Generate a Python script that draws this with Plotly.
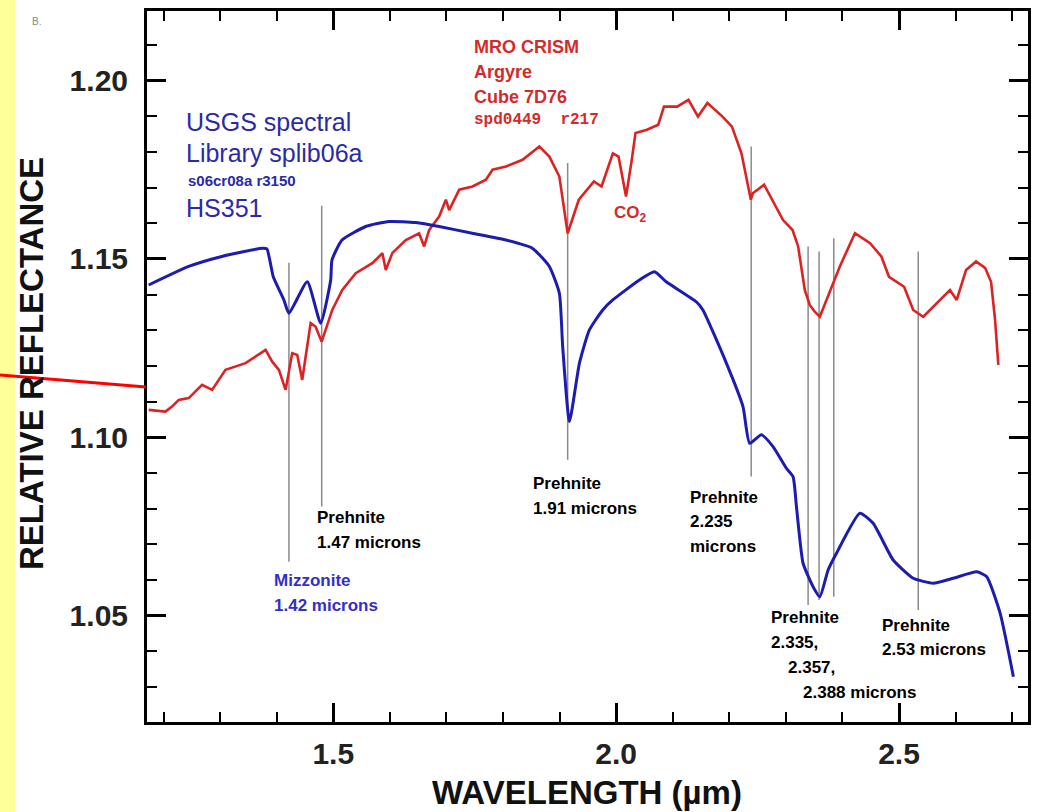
import plotly.graph_objects as go

# ---------------- data ----------------
blue_wl = [1.1737, 1.2445, 1.3029, 1.3743, 1.3826, 1.3939, 1.4127, 1.4216, 1.4540, 1.4777,
           1.4954, 1.4977, 1.5154, 1.5574, 1.5986, 1.6459, 1.6871, 1.7456, 1.8052, 1.8518,
           1.8819, 1.8996, 1.9055, 1.9174, 1.9351, 1.9527, 1.9763, 1.9940, 2.0412, 2.0678,
           2.0885, 2.1416, 2.1533, 2.1948, 2.2242, 2.2360, 2.2567, 2.2773, 2.3010, 2.3127,
           2.3187, 2.3304, 2.3481, 2.3600, 2.3747, 2.3895, 2.4308, 2.4543, 2.4897, 2.5251,
           2.5606, 2.5960, 2.6374, 2.6551, 2.6787, 2.7022]
blue_refl = [1.1427, 1.1479, 1.1507, 1.1530, 1.1528, 1.1450, 1.1385, 1.1348, 1.1436, 1.1320,
             1.1441, 1.1497, 1.1553, 1.1591, 1.1605, 1.1602, 1.1591, 1.1572, 1.1553, 1.1530,
             1.1479, 1.1404, 1.1254, 1.1044, 1.1208, 1.1301, 1.1357, 1.1385, 1.1441, 1.1464,
             1.1436, 1.1380, 1.1357, 1.1208, 1.1086, 1.0983, 1.1007, 1.0974, 1.0913, 1.0890,
             1.0806, 1.0647, 1.0581, 1.0553, 1.0628, 1.0675, 1.0787, 1.0759, 1.0656, 1.0605,
             1.0591, 1.0605, 1.0623, 1.0609, 1.0507, 1.0329]

red_wl = [1.1737, 1.2033, 1.2149, 1.2268, 1.2445, 1.2681, 1.2858, 1.3095, 1.3449, 1.3626,
          1.3803, 1.3920, 1.4039, 1.4157, 1.4274, 1.4363, 1.4451, 1.4511, 1.4600, 1.4688,
          1.4795, 1.4982, 1.5159, 1.5397, 1.5690, 1.5868, 1.5928, 1.6045, 1.6282, 1.6517,
          1.6606, 1.6694, 1.6871, 1.6990, 1.7049, 1.7226, 1.7461, 1.7698, 1.7815, 1.8052,
          1.8346, 1.8642, 1.8819, 1.8996, 1.9143, 1.9340, 1.9607, 1.9742, 1.9942, 2.0042,
          2.0175, 2.0276, 2.0342, 2.0544, 2.0744, 2.0845, 2.1078, 2.1278, 2.1447, 2.1613,
          2.1880, 2.2047, 2.2215, 2.2381, 2.2415, 2.2615, 2.2817, 2.2950, 2.3118, 2.3217,
          2.3334, 2.3422, 2.3511, 2.3600, 2.3718, 2.3835, 2.3954, 2.4221, 2.4488, 2.4688,
          2.4823, 2.5090, 2.5251, 2.5428, 2.5666, 2.5901, 2.6020, 2.6185, 2.6362, 2.6521,
          2.6627, 2.6698, 2.6756]
red_refl = [1.1077, 1.1072, 1.1086, 1.1105, 1.1110, 1.1147, 1.1133, 1.1189, 1.1208, 1.1226,
            1.1245, 1.1212, 1.1189, 1.1133, 1.1236, 1.1231, 1.1161, 1.1226, 1.1320, 1.1310,
            1.1268, 1.1357, 1.1413, 1.1460, 1.1488, 1.1516, 1.1469, 1.1517, 1.1553, 1.1572,
            1.1535, 1.1581, 1.1619, 1.1666, 1.1637, 1.1694, 1.1703, 1.1722, 1.1750, 1.1759,
            1.1778, 1.1815, 1.1787, 1.1731, 1.1572, 1.1666, 1.1717, 1.1703, 1.1796, 1.1787,
            1.1675, 1.1778, 1.1853, 1.1862, 1.1876, 1.1927, 1.1927, 1.1946, 1.1899, 1.1937,
            1.1899, 1.1871, 1.1796, 1.1666, 1.1684, 1.1708, 1.1647, 1.1609, 1.1581, 1.1535,
            1.1413, 1.1371, 1.1352, 1.1338, 1.1385, 1.1432, 1.1479, 1.1572, 1.1544, 1.1507,
            1.1450, 1.1422, 1.1357, 1.1338, 1.1376, 1.1413, 1.1385, 1.1469, 1.1493, 1.1475,
            1.1436, 1.1329, 1.1203]

# absorption feature marker lines
feat_wl = [1.4216, 1.4795, 1.9143, 2.2387, 2.3393, 2.3587, 2.3847, 2.5340]
feat_top = [1.1489, 1.1649, 1.1769, 1.1815, 1.1535, 1.1521, 1.1558, 1.1521]
feat_bot = [1.0651, 1.0806, 1.0937, 1.0890, 1.0530, 1.0544, 1.0553, 1.0516]

x_ticks = [1.5, 2.0, 2.5]
y_ticks = [1.05, 1.10, 1.15, 1.20]

X_RANGE = [1.1707, 2.728]
Y_RANGE = [1.0202, 1.2195]

# ---------------- layout helpers ----------------
W, H = 1042, 812
L, R, T, B = 147, 1028, 11, 722


def dx(xp):
    return X_RANGE[0] + (xp - L) / (R - L) * (X_RANGE[1] - X_RANGE[0])


def dy(yp):
    return Y_RANGE[1] - (yp - T) / (B - T) * (Y_RANGE[1] - Y_RANGE[0])


def px_paper(xp, yp):
    return (xp - L) / (R - L), (B - yp) / (B - T)


FONT = "Liberation Sans, Arial, Helvetica, sans-serif"
BLUE = "#1c1cb0"
RED = "#dc2222"
BLUE_TXT = "#2a2aa8"
RED_TXT = "#d42a2a"

fig = go.Figure()

# feature lines
fx, fy = [], []
for w, t, b in zip(feat_wl, feat_top, feat_bot):
    fx += [w, w, None]
    fy += [b, t, None]
fig.add_trace(go.Scatter(x=fx, y=fy, mode="lines", line=dict(color="#8a8a8a", width=1.5),
                         hoverinfo="skip", showlegend=False))

fig.add_trace(go.Scatter(x=red_wl, y=red_refl, mode="lines", name="MRO CRISM",
                         line=dict(color=RED, width=2.6), showlegend=False))
fig.add_trace(go.Scatter(x=blue_wl, y=blue_refl, mode="lines", name="USGS HS351",
                         line=dict(color=BLUE, width=3, shape="spline", smoothing=0.5),
                         showlegend=False))

annos = []


def txt(xp, yp, text, color="black", size=17, bold=True, family=FONT, anchor="left"):
    annos.append(dict(x=dx(xp), y=dy(yp), xref="x", yref="y", text=text, showarrow=False,
                      xanchor=anchor, yanchor="middle",
                      font=dict(family=family, size=size, color=color,
                                weight="bold" if bold else "normal")))


# blue library label
txt(184, 122, "USGS spectral", BLUE_TXT, 25, False)
txt(184, 153, "Library splib06a", BLUE_TXT, 25, False)
txt(186, 180, "s06cr08a r3150", BLUE_TXT, 15, True)
txt(184, 208, "HS351", BLUE_TXT, 25, False)

# red CRISM label
txt(472, 47, "MRO CRISM", RED_TXT, 18)
txt(472, 72, "Argyre", RED_TXT, 18)
txt(472, 97, "Cube 7D76", RED_TXT, 18)
txt(472, 120, "spd0449  r217", RED_TXT, 16, True, "Liberation Mono, Courier New, monospace")
txt(612, 214, "CO<sub>2</sub>", RED_TXT, 17)

# feature labels
txt(315, 517, "Prehnite")
txt(315, 542, "1.47 microns")
txt(272, 580, "Mizzonite", "#3030c8")
txt(272, 605, "1.42 microns", "#3030c8")
txt(531, 483, "Prehnite")
txt(531, 508, "1.91 microns")
txt(688, 497, "Prehnite")
txt(688, 521, "2.235")
txt(688, 546, "microns")
txt(769, 617, "Prehnite")
txt(769, 642, "2.335,")
txt(786, 667, "2.357,")
txt(801, 692, "2.388 microns")
txt(880, 625, "Prehnite")
txt(880, 649, "2.53 microns")

# panel tag
bx, by = px_paper(36, 21)
annos.append(dict(x=bx, y=by, xref="paper", yref="paper", text="B.",
                  showarrow=False, xanchor="center", yanchor="middle",
                  font=dict(family=FONT, size=10, color="#888888")))

# axis titles
tx, ty = px_paper(587, 792)
annos.append(dict(x=tx, y=ty, xref="paper", yref="paper",
                  text="WAVELENGTH (µm)", showarrow=False, xanchor="center", yanchor="middle",
                  font=dict(family=FONT, size=33, color="#111111", weight="bold")))
yx, yy = px_paper(31, 364)
annos.append(dict(x=yx, y=yy, xref="paper", yref="paper",
                  text="RELATIVE REFLECTANCE", showarrow=False, textangle=-90,
                  xanchor="center", yanchor="middle",
                  font=dict(family=FONT, size=33, color="#111111", weight="bold")))

# yellow strip and red pointer line on the left
s_x0, s_y0 = px_paper(0, H)
s_x1, s_y1 = px_paper(15, 0)
p_x0, p_y0 = px_paper(0, 375)
p_x1, p_y1 = px_paper(146, 387)
shapes = [
    dict(type="rect", xref="paper", yref="paper", x0=s_x0, x1=s_x1, y0=s_y0, y1=s_y1,
         fillcolor="#ffff99", line=dict(width=0), layer="below"),
    dict(type="line", xref="paper", yref="paper", x0=p_x0, x1=p_x1, y0=p_y0, y1=p_y1,
         line=dict(color="#ff0000", width=3)),
]

axis_common = dict(showline=True, linecolor="black", linewidth=3, mirror="ticks",
                   ticks="inside", tickcolor="black", tickwidth=2.5, ticklen=19,
                   showgrid=False, zeroline=False,
                   tickfont=dict(family=FONT, size=30, color="#222222", weight="bold"))

fig.update_layout(
    width=W, height=H,
    margin=dict(l=L, r=W - R, t=T, b=H - B, autoexpand=False),
    paper_bgcolor="white", plot_bgcolor="white",
    showlegend=False,
    annotations=annos, shapes=shapes,
    xaxis=dict(range=X_RANGE, tickvals=x_ticks, ticktext=[f"{v:.1f}" for v in x_ticks],
               ticklabelstandoff=3,
               minor=dict(dtick=0.1, tick0=0, ticks="inside", ticklen=10, tickwidth=2,
                          tickcolor="black"),
               **axis_common),
    yaxis=dict(range=Y_RANGE, tickvals=y_ticks, ticktext=[f"{v:.2f}" for v in y_ticks],
               ticklabelstandoff=10,
               minor=dict(dtick=0.01, tick0=0, ticks="inside", ticklen=10, tickwidth=2,
                          tickcolor="black"),
               **axis_common),
)

fig.write_html("out.html")
